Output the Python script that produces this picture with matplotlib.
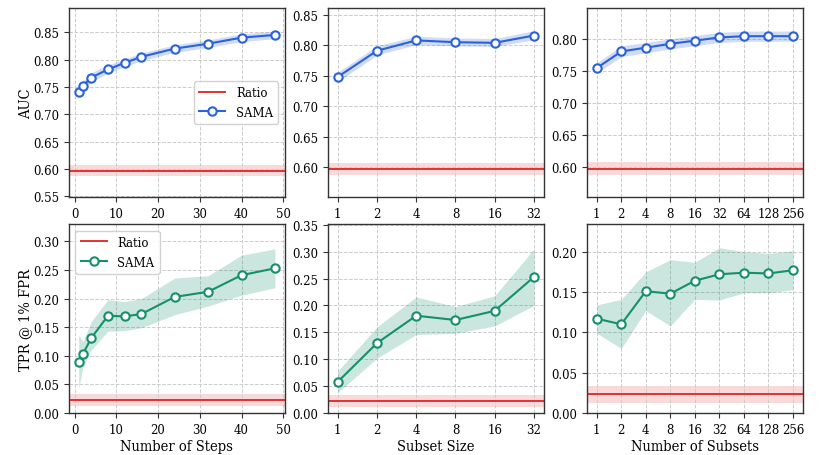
import numpy as np
import matplotlib
matplotlib.use("Agg")
import matplotlib.pyplot as plt
from matplotlib.ticker import MultipleLocator, FormatStrFormatter

plt.rcParams["font.family"] = ["DejaVu Serif"]
plt.rcParams["font.stretch"] = "condensed"

BLUE = "#2a62d9"
GREEN = "#15906a"
RED = "#e03232"

# ratio baseline
ratio_auc, ratio_auc_err = 0.597, 0.010
ratio_tpr, ratio_tpr_err = 0.023, 0.011

# number of steps
steps = [1, 2, 4, 8, 12, 16, 24, 32, 40, 48]
steps_auc = [0.741, 0.752, 0.767, 0.782, 0.794, 0.805, 0.820, 0.829, 0.840, 0.845]
steps_auc_lo = [0.731, 0.744, 0.759, 0.775, 0.787, 0.798, 0.813, 0.822, 0.833, 0.838]
steps_auc_hi = [0.751, 0.761, 0.776, 0.790, 0.801, 0.812, 0.827, 0.836, 0.847, 0.852]
steps_tpr = [0.089, 0.103, 0.131, 0.170, 0.169, 0.173, 0.203, 0.212, 0.241, 0.253]
steps_tpr_lo = [0.043, 0.080, 0.110, 0.143, 0.144, 0.149, 0.172, 0.187, 0.206, 0.219]
steps_tpr_hi = [0.137, 0.125, 0.160, 0.198, 0.195, 0.200, 0.236, 0.240, 0.276, 0.287]

# subset size
size_labels = ["1", "2", "4", "8", "16", "32"]
size_auc = [0.748, 0.791, 0.808, 0.805, 0.804, 0.816]
size_auc_lo = [0.740, 0.784, 0.801, 0.799, 0.798, 0.809]
size_auc_hi = [0.756, 0.799, 0.815, 0.812, 0.811, 0.824]
size_tpr = [0.058, 0.130, 0.181, 0.173, 0.190, 0.253]
size_tpr_lo = [0.038, 0.102, 0.146, 0.148, 0.162, 0.200]
size_tpr_hi = [0.078, 0.160, 0.216, 0.198, 0.218, 0.305]

# number of subsets
nsub_labels = ["1", "2", "4", "8", "16", "32", "64", "128", "256"]
nsub_auc = [0.755, 0.781, 0.787, 0.793, 0.798, 0.803, 0.805, 0.805, 0.805]
nsub_auc_lo = [0.747, 0.773, 0.779, 0.785, 0.790, 0.795, 0.797, 0.797, 0.797]
nsub_auc_hi = [0.763, 0.790, 0.795, 0.801, 0.806, 0.811, 0.813, 0.813, 0.813]
nsub_tpr = [0.117, 0.110, 0.151, 0.148, 0.164, 0.172, 0.174, 0.173, 0.177]
nsub_tpr_lo = [0.099, 0.080, 0.127, 0.108, 0.141, 0.140, 0.149, 0.149, 0.153]
nsub_tpr_hi = [0.134, 0.141, 0.175, 0.190, 0.187, 0.205, 0.200, 0.198, 0.201]

fig, axes = plt.subplots(2, 3, figsize=(8.2, 4.56), dpi=100)
fig.subplots_adjust(left=0.084, right=0.979, top=0.98, bottom=0.092, wspace=0.2, hspace=0.145)

def panel(ax, x, y, lo, hi, color, base, base_err, ylim):
    ax.axhline(base, color=RED, lw=1.4, label="Ratio", zorder=2)
    ax.axhspan(base - base_err, base + base_err, color=RED, alpha=0.18, lw=0, zorder=1)
    ax.fill_between(x, lo, hi, color=color, alpha=0.22, lw=0, zorder=2)
    ax.plot(x, y, "-o", color=color, lw=1.5, ms=6, mfc="white", mew=1.5, label="SAMA", zorder=3)
    ax.set_ylim(*ylim)
    ax.yaxis.set_major_locator(MultipleLocator(0.05))
    ax.yaxis.set_major_formatter(FormatStrFormatter("%.2f"))
    ax.grid(True, ls="--", color="#cccccc", lw=0.7)
    ax.tick_params(labelsize=9.4, length=3.5, color="#333333")
    for s in ax.spines.values():
        s.set_color("#333333")
        s.set_linewidth(1.0)

rows = [
    (steps_auc, steps_auc_lo, steps_auc_hi, size_auc, size_auc_lo, size_auc_hi,
     nsub_auc, nsub_auc_lo, nsub_auc_hi, BLUE, ratio_auc, ratio_auc_err,
     [(0.549, 0.894), (0.551, 0.861), (0.553, 0.849)]),
    (steps_tpr, steps_tpr_lo, steps_tpr_hi, size_tpr, size_tpr_lo, size_tpr_hi,
     nsub_tpr, nsub_tpr_lo, nsub_tpr_hi, GREEN, ratio_tpr, ratio_tpr_err,
     [(0, 0.330), (0, 0.351), (0, 0.234)]),
]

for r, row in enumerate(rows):
    (a, alo, ahi, b, blo, bhi, c, clo, chi, color, base, err, lims) = row
    panel(axes[r, 0], steps, a, alo, ahi, color, base, err, lims[0])
    axes[r, 0].set_xticks([0, 10, 20, 30, 40, 50])
    xs = np.arange(len(size_labels))
    panel(axes[r, 1], xs, b, blo, bhi, color, base, err, lims[1])
    axes[r, 1].set_xticks(xs, size_labels)
    xn = np.arange(len(nsub_labels))
    panel(axes[r, 2], xn, c, clo, chi, color, base, err, lims[2])
    axes[r, 2].set_xticks(xn, nsub_labels)

axes[0, 0].set_ylabel("AUC", fontsize=10.5)
axes[1, 0].set_ylabel("TPR @ 1% FPR", fontsize=10.5)
for ax in axes[:, 0]:
    ax.yaxis.set_label_coords(-0.168, 0.5)
axes[1, 0].set_xlabel("Number of Steps", fontsize=10.5, labelpad=2)
axes[1, 1].set_xlabel("Subset Size", fontsize=10.5, labelpad=2)
axes[1, 2].set_xlabel("Number of Subsets", fontsize=10.5, labelpad=2)

axes[0, 0].legend(loc="center right", fontsize=9.4, framealpha=0.9, edgecolor="#cccccc")
axes[1, 0].legend(loc="upper left", fontsize=9.4, framealpha=0.9, edgecolor="#cccccc")

fig.savefig("out.png", dpi=100)
